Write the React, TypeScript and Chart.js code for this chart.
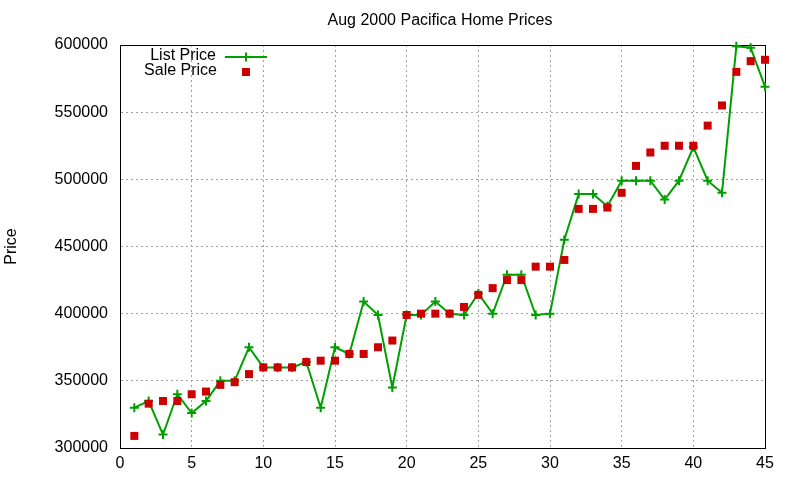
import React, { useEffect, useRef } from "react";
import { Chart, registerables } from "chart.js";

Chart.register(...registerables);

const titleText = "Aug 2000 Pacifica Home Prices";
const yTitle = "Price";
const listLabel = "List Price";
const saleLabel = "Sale Price";

const houses: number[] = [
  1, 2, 3, 4, 5, 6, 7, 8, 9, 10, 11, 12, 13, 14, 15, 16, 17, 18, 19, 20, 21, 22, 23,
  24, 25, 26, 27, 28, 29, 30, 31, 32, 33, 34, 35, 36, 37, 38, 39, 40, 41, 42, 43, 44, 45,
];

const listPrice: number[] = [
  330000, 335000, 310000, 340000, 326000, 335000, 350000, 350000, 375000, 360000,
  360000, 360000, 364000, 330000, 375000, 370000, 409000, 399000, 345000, 399000,
  399000, 409000, 400000, 399000, 415000, 400000, 429000, 429000, 399000, 400000,
  455000, 489000, 489000, 480000, 499000, 499000, 499000, 485000, 499000, 524000,
  499000, 490000, 599000, 598000, 569000,
];

const salePrice: number[] = [
  309000, 333000, 335000, 335000, 340000, 342000, 347000, 349000, 355000, 360000,
  360000, 360000, 364000, 365000, 365000, 370000, 370000, 375000, 380000, 399000,
  400000, 400000, 400000, 405000, 414000, 419000, 425000, 425000, 435000, 435000,
  440000, 478000, 478000, 479000, 490000, 510000, 520000, 525000, 525000, 525000,
  540000, 555000, 580000, 588000, 589000,
];

const GREEN = "#00a000";
const RED = "#cc0000";
const FONT = "'Liberation Sans', Arial, sans-serif";

const framePlugin = {
  id: "gnuFrame",
  beforeDatasetsDraw(chart: any) {
    const { ctx, chartArea } = chart;
    ctx.save();
    ctx.strokeStyle = "#000";
    ctx.lineWidth = 1;
    ctx.strokeRect(chartArea.left + 0.5, chartArea.top + 0.5, chartArea.right - chartArea.left, chartArea.bottom - chartArea.top);
    ctx.restore();
  },
  afterDraw(chart: any) {
    const { ctx } = chart;
    ctx.save();
    ctx.fillStyle = "#000";
    ctx.font = `16px ${FONT}`;
    ctx.textAlign = "center";
    ctx.textBaseline = "middle";
    ctx.fillText(titleText, 440, 21);

    // legend
    ctx.textAlign = "right";
    ctx.fillText(listLabel, 216, 56);
    ctx.fillText(saleLabel, 217, 71);
    ctx.strokeStyle = GREEN;
    ctx.lineWidth = 2;
    ctx.beginPath();
    ctx.moveTo(225, 57);
    ctx.lineTo(267, 57);
    ctx.moveTo(246, 52.5);
    ctx.lineTo(246, 61.5);
    ctx.stroke();
    ctx.fillStyle = RED;
    ctx.fillRect(242, 68, 8, 8);
    ctx.restore();
  },
};

export default function App() {
  const ref = useRef<HTMLCanvasElement | null>(null);
  useEffect(() => {
    if (!ref.current) return;
    Chart.defaults.font.family = FONT;
    const chart = new Chart(ref.current, {
      type: "line",
      data: {
        labels: houses,
        datasets: [
          {
            label: listLabel,
            data: houses.map((x, i) => ({ x, y: listPrice[i] })),
            borderColor: GREEN,
            backgroundColor: GREEN,
            borderWidth: 2,
            pointStyle: "cross",
            pointRadius: 4.5,
            pointBorderWidth: 2,
            pointBorderColor: GREEN,
            tension: 0,
            order: 1,
            clip: false as any,
          },
          {
            label: saleLabel,
            data: houses.map((x, i) => ({ x, y: salePrice[i] })),
            showLine: false,
            pointStyle: "rect",
            pointRadius: 5.66,
            pointBorderWidth: 0,
            pointBackgroundColor: RED,
            backgroundColor: RED,
            borderColor: RED,
            order: 0,
            clip: false as any,
          },
        ],
      },
      options: {
        responsive: false,
        animation: false,
        layout: { padding: { top: 45, right: 35, left: 0, bottom: 0 } },
        plugins: { legend: { display: false }, title: { display: false }, tooltip: { enabled: false } },
        scales: {
          x: {
            type: "linear",
            min: 0,
            max: 45,
            ticks: { stepSize: 5, font: { size: 16 }, color: "#000", padding: 6, maxRotation: 0 },
            grid: { color: "#a0a0a0", drawTicks: false } as any,
            border: { display: true, color: "#000", width: 1, dash: [2, 3] } as any,
            afterFit: (s: any) => {
              s.height = 32;
            },
          },
          y: {
            type: "linear",
            min: 300000,
            max: 600000,
            ticks: {
              stepSize: 50000,
              font: { size: 16 },
              color: "#000",
              padding: 12,
              callback: (v: any) => String(v),
            },
            grid: { color: "#a0a0a0", drawTicks: false },
            border: { display: true, color: "#000", width: 1, dash: [2, 3] } as any,
            title: { display: true, text: yTitle, font: { size: 16 }, color: "#000", padding: { top: 2, bottom: 0 } },
            afterFit: (s: any) => {
              s.width = 120;
            },
          },
        },
      },
      plugins: [framePlugin],
    });
    return () => chart.destroy();
  }, []);
  return (
    <div style={{ position: "fixed", left: 0, top: 0, width: 800, height: 480, background: "#fff" }}>
      <canvas ref={ref} width={800} height={480} style={{ width: 800, height: 480 }} />
    </div>
  );
}
